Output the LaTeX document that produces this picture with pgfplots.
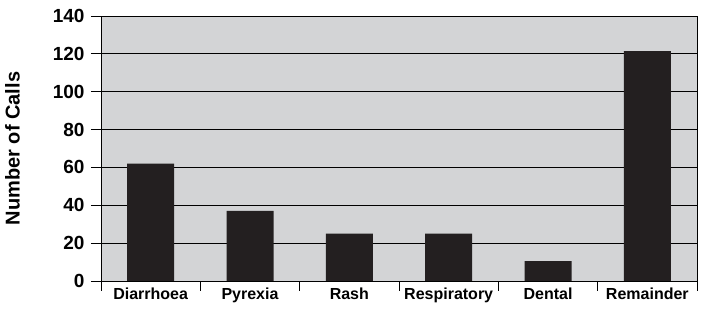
\documentclass[border=0pt]{standalone}
\usepackage{fontspec}
\setmainfont{Liberation Sans}
\usepackage{pgfplots}
\pgfplotsset{compat=1.18}
\definecolor{bg}{RGB}{211,212,214}
\definecolor{barc}{RGB}{35,31,32}
\begin{document}
\begin{tikzpicture}
\begin{axis}[
  scale only axis, width=596pt, height=265pt,
  xmin=-0.5, xmax=5.5, ymin=0, ymax=140,
  axis background/.style={fill=bg},
  axis line style={line width=0.8pt, black},
  xtick pos=bottom, ytick pos=left,
  xtick={-0.5,0.5,1.5,2.5,3.5,4.5,5.5},
  xticklabels={},
  extra x ticks={0,1,2,3,4,5},
  extra x tick labels={Diarrhoea,Pyrexia,Rash,Respiratory,Dental,Remainder},
  extra x tick style={major tick length=0pt, tick style={draw=none}},
  ytick={0,20,...,140},
  tick style={black, line width=0.8pt},
  major tick length=10pt,
  tick align=outside,
  ymajorgrids,
  grid style={black, line width=0.8pt},
  /pgf/number format/assume math mode=true,
  x tick label style={font=\fontsize{16}{19}\selectfont\bfseries, yshift=-3pt},
  y tick label style={font=\fontsize{19}{22}\selectfont\bfseries, xshift=-3pt},
  ylabel={Number of Calls},
  ylabel shift=26pt,
  ylabel style={font=\fontsize{20}{24}\selectfont\bfseries},
]
\addplot[ybar, bar width=47pt, fill=barc, draw=none] coordinates {
  (0,62) (1,37) (2,25) (3,25) (4,10.5) (5,121.5)
};
\end{axis}
\path ([xshift=-101pt,yshift=-28pt]current axis.south west) ([xshift=6pt,yshift=16pt]current axis.north east);
\end{tikzpicture}
\end{document}
